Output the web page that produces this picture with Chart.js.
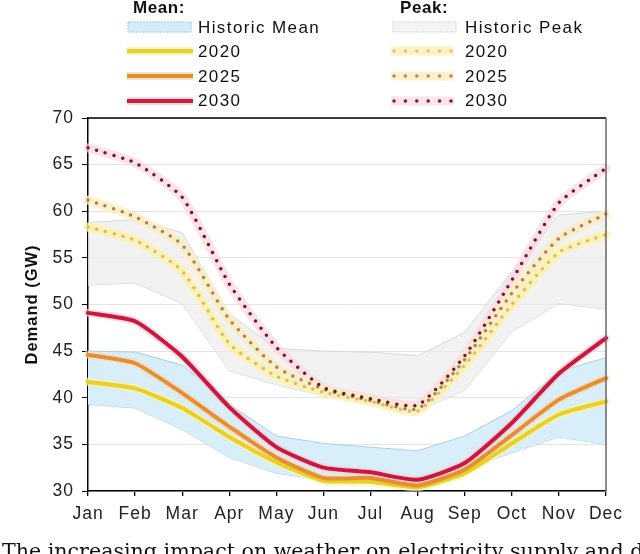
<!DOCTYPE html>
<html><head><meta charset="utf-8">
<script src="https://cdn.jsdelivr.net/npm/chart.js@4"></script>
<style>
html,body{margin:0;padding:0;background:#fff;width:640px;height:554px;overflow:hidden;}
#wrap{position:relative;width:640px;height:554px;}
#c{position:absolute;left:0;top:0;width:640px;height:554px;}
.lg{position:absolute;font-family:"Liberation Sans",Arial,sans-serif;font-size:17px;letter-spacing:1.4px;color:#111;white-space:nowrap;line-height:1;}
.hd{font-weight:bold;letter-spacing:0.6px;}
svg{position:absolute;left:0;top:0;}
#cap{position:absolute;left:2px;top:541.3px;font-family:"DejaVu Serif",serif;font-size:20.6px;white-space:nowrap;color:#111;line-height:1;}
</style></head>
<body><div id="wrap">
<canvas id="c" width="640" height="554"></canvas>
<svg width="640" height="115">
  <rect x="128" y="22" width="63" height="10" fill="#d6edf8" stroke="#9fc8de" stroke-width="1" stroke-dasharray="2,1"/>
  <line x1="127" y1="51" x2="193" y2="51" stroke="#fbf2b8" stroke-width="8"/>
  <line x1="127" y1="51" x2="193" y2="51" stroke="#e6cf2a" stroke-width="4"/>
  <line x1="127" y1="76" x2="193" y2="76" stroke="#fbe0c0" stroke-width="8"/>
  <line x1="127" y1="76" x2="193" y2="76" stroke="#e58f35" stroke-width="4"/>
  <line x1="127" y1="101" x2="193" y2="101" stroke="#f8d6dd" stroke-width="8"/>
  <line x1="127" y1="101" x2="193" y2="101" stroke="#c8203f" stroke-width="4"/>
  <rect x="393" y="22" width="63" height="10" fill="#f4f4f4" stroke="#d5d5d5" stroke-width="1" stroke-dasharray="2,1"/>
  <line x1="391" y1="51" x2="454" y2="51" stroke="#fff3c4" stroke-width="9"/>
  <line x1="394" y1="51" x2="452" y2="51" stroke="#dcc088" stroke-width="3.5" stroke-linecap="round" stroke-dasharray="0,11.4"/>
  <line x1="391" y1="76" x2="454" y2="76" stroke="#fdf0cf" stroke-width="9"/>
  <line x1="394" y1="76" x2="452" y2="76" stroke="#b08a60" stroke-width="3.5" stroke-linecap="round" stroke-dasharray="0,11.4"/>
  <line x1="391" y1="101" x2="454" y2="101" stroke="#fde4e9" stroke-width="9"/>
  <line x1="394" y1="101" x2="452" y2="101" stroke="#7e1a36" stroke-width="3.5" stroke-linecap="round" stroke-dasharray="0,11.4"/>
</svg>
<div class="lg hd" style="left:133px;top:-1.4px">Mean:</div>
<div class="lg" style="left:198px;top:18.6px">Historic Mean</div>
<div class="lg" style="left:198px;top:42.6px">2020</div>
<div class="lg" style="left:198px;top:67.6px">2025</div>
<div class="lg" style="left:198px;top:91.6px">2030</div>
<div class="lg hd" style="left:400px;top:-1.4px">Peak:</div>
<div class="lg" style="left:465px;top:18.6px">Historic Peak</div>
<div class="lg" style="left:465px;top:42.6px">2020</div>
<div class="lg" style="left:465px;top:67.6px">2025</div>
<div class="lg" style="left:465px;top:91.6px">2030</div>
<div id="cap">The increasing impact on weather on electricity supply and demand</div>
</div>
<script>
const months = ['Jan','Feb','Mar','Apr','May','Jun','Jul','Aug','Sep','Oct','Nov','Dec'];
const yTicks = [30,35,40,45,50,55,60,65,70];
const histMeanUpper = [45.0, 44.9, 43.5, 39.3, 35.9, 35.1, 34.7, 34.3, 35.9, 38.6, 42.8, 44.3];
const histMeanLower = [39.3, 38.9, 36.6, 33.6, 31.9, 31.2, 31.0, 30.3, 32.3, 34.1, 35.8, 35.0];
const histPeakUpper = [58.8, 59.1, 57.7, 49.0, 45.3, 45.0, 44.9, 44.5, 47.0, 53.5, 59.6, 60.0];
const histPeakLower = [52.1, 52.3, 50.1, 42.9, 41.4, 40.2, 39.8, 38.6, 40.8, 47.1, 50.1, 49.5];
const mean2020 = [41.7, 41.0, 38.9, 35.8, 33.1, 31.1, 31.0, 30.4, 31.9, 35.1, 38.2, 39.6];
const mean2025 = [44.6, 43.7, 40.5, 36.9, 33.6, 31.4, 31.4, 30.6, 32.3, 36.0, 39.8, 42.1];
const mean2030 = [49.1, 48.2, 44.4, 39.0, 34.7, 32.5, 32.0, 31.2, 33.0, 37.3, 42.6, 46.4];
const peak2020 = [58.3, 56.9, 53.6, 45.8, 42.3, 40.6, 39.6, 38.6, 43.5, 50.0, 55.6, 57.5];
const peak2025 = [61.2, 59.4, 56.4, 48.4, 43.3, 40.9, 39.7, 38.8, 44.1, 51.2, 57.1, 59.7];
const peak2030 = [66.8, 65.2, 61.5, 52.2, 45.4, 41.1, 39.9, 39.2, 44.5, 52.6, 60.9, 64.6];

const FONT = '"Liberation Sans", Arial, sans-serif';

function ln(data, color, width, order, extra) {
  return Object.assign({data, borderColor: color, borderWidth: width, pointRadius: 0,
    pointHoverRadius: 0, fill: false, tension: 0.18, order, borderCapStyle: 'round', borderJoinStyle: 'round'}, extra || {});
}
const dots = {borderDash: [0, 9], borderCapStyle: 'round'};

const frame = {
  id: 'frame',
  beforeDraw(chart) { chart.ctx.letterSpacing = '1px'; },
  afterDatasetsDraw(chart) {
    const {ctx, chartArea: a} = chart;
    ctx.save();
    ctx.lineWidth = 1.5;
    ctx.strokeStyle = '#000';
    ctx.beginPath(); ctx.moveTo(a.left, a.top); ctx.lineTo(a.right, a.top); ctx.stroke();
    ctx.strokeStyle = '#666';
    ctx.beginPath(); ctx.moveTo(a.right, a.top); ctx.lineTo(a.right, a.bottom); ctx.stroke();
    ctx.restore();
  }
};

new Chart(document.getElementById('c'), {
  type: 'line',
  data: {
    labels: months,
    datasets: [
      ln(histPeakUpper, '#d8d8d8', 1, 30, {fill: '+1', backgroundColor: 'rgba(236,236,236,0.7)', tension: 0}),
      ln(histPeakLower, '#d8d8d8', 1, 30, {tension: 0}),
      ln(histMeanUpper, '#a9cfe2', 1, 29, {fill: '+1', backgroundColor: '#d8eef9', tension: 0}),
      ln(histMeanLower, '#a9cfe2', 1, 29, {tension: 0}),
      ln(peak2030, 'rgba(252,214,222,0.7)', 9, 28),
      ln(peak2020, 'rgba(255,242,165,0.8)', 9, 27),
      ln(peak2025, 'rgba(253,238,190,0.8)', 9, 26),
      ln(peak2020, '#d7b878', 3.5, 25, dots),
      ln(peak2025, '#a88058', 3.5, 24, dots),
      ln(peak2030, '#74162f', 3.5, 23, dots),
      ln(mean2020, 'rgba(250,242,175,0.7)', 8, 22),
      ln(mean2025, 'rgba(250,218,180,0.6)', 8, 21),
      ln(mean2030, 'rgba(248,205,215,0.7)', 8, 20),
      ln(mean2020, '#e8d024', 4, 12),
      ln(mean2025, '#e58f35', 4, 11),
      ln(mean2030, '#c8183e', 4, 10)
    ]
  },
  options: {
    responsive: false,
    animation: false,
    events: [],
    layout: {padding: {top: 118, right: 34, left: 0, bottom: 0}},
    plugins: {legend: {display: false}, tooltip: {enabled: false}},
    scales: {
      x: {
        offset: false,
        grid: {display: true, drawOnChartArea: false, drawTicks: true, tickLength: 5, color: '#000', lineWidth: 1.3},
        border: {display: true, color: '#000', width: 1.5},
        ticks: {color: '#222', font: {family: FONT, size: 17.5}, padding: 8, maxRotation: 0, autoSkip: false},
        afterFit(s) { s.height = 63; }
      },
      y: {
        min: yTicks[0], max: yTicks[yTicks.length - 1],
        afterBuildTicks(s) { s.ticks = yTicks.map(v => ({value: v})); },
        grid: {color: '#e3e3e3', tickColor: '#000', tickLength: 6, lineWidth: 1},
        border: {display: true, color: '#000', width: 1.5},
        ticks: {color: '#222', font: {family: FONT, size: 17.5}, padding: 8},
        title: {display: true, text: 'Demand (GW)', color: '#111',
          font: {family: FONT, size: 16.5, weight: 'bold'}, padding: {top: 23, bottom: 0}},
        afterFit(s) { s.width = 88; }
      }
    }
  },
  plugins: [frame]
});
</script>
</body></html>
